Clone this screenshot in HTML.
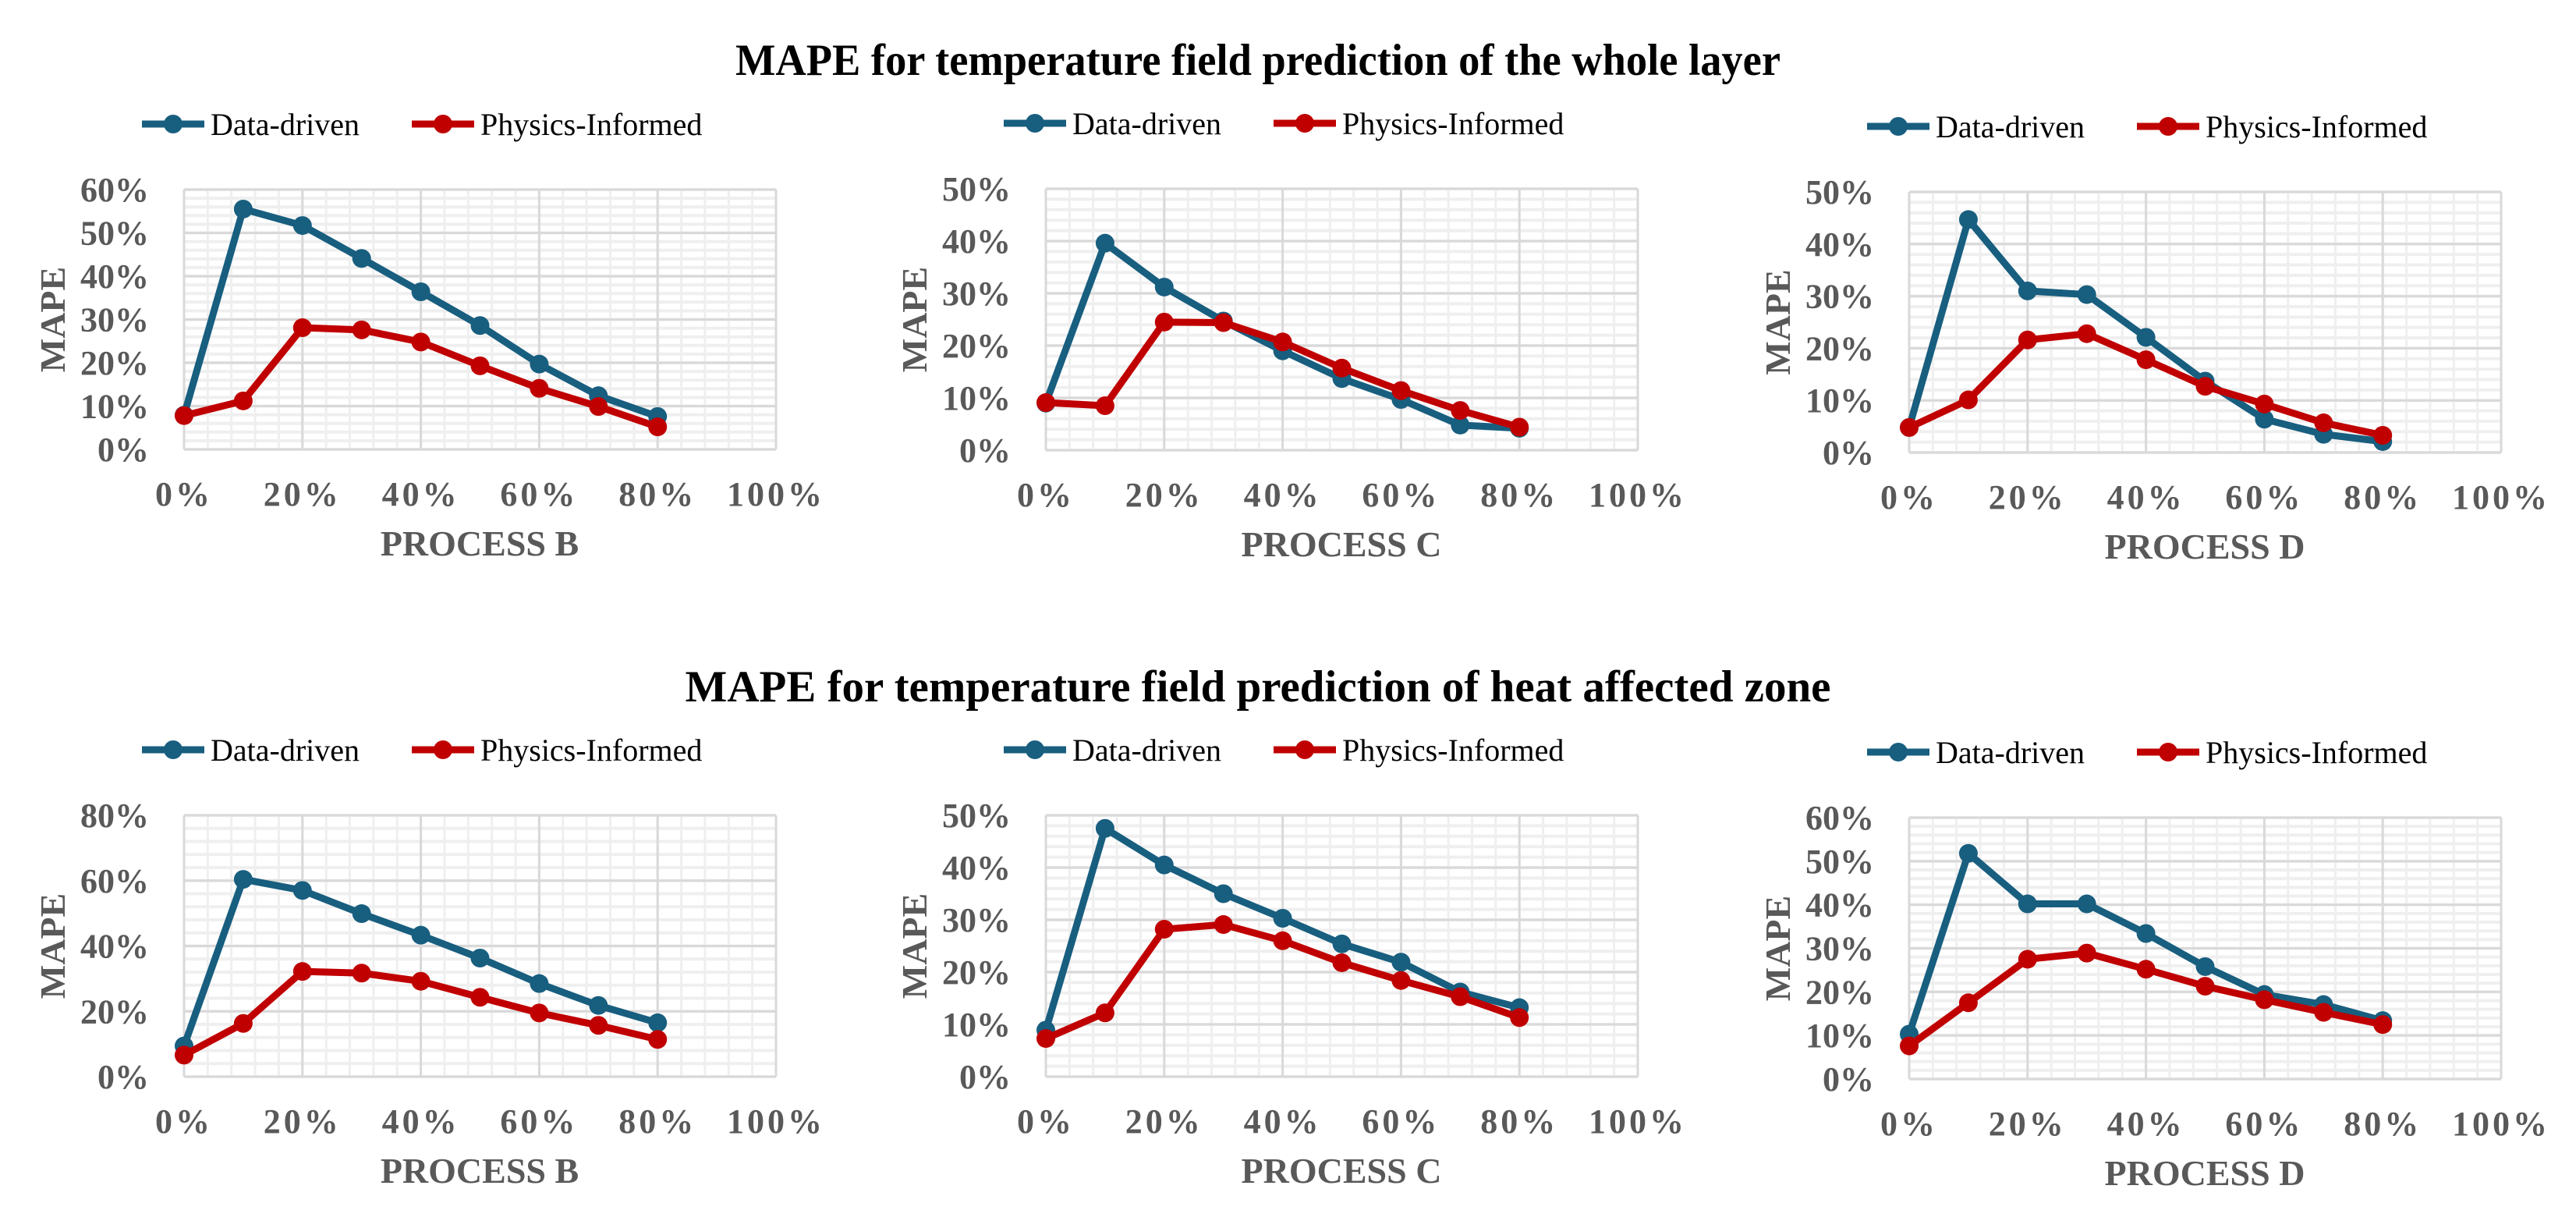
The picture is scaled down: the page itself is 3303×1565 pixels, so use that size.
<!DOCTYPE html>
<html><head><meta charset="utf-8"><style>
html,body{margin:0;padding:0;background:#fff;}
svg{display:block;}
</style></head><body>
<svg id="fig" width="3303" height="1565" viewBox="0 0 3303 1565" xmlns="http://www.w3.org/2000/svg">
<text x="1613" y="96" text-anchor="middle" font-family="Liberation Serif, serif" font-weight="bold" font-size="57" textLength="1340" lengthAdjust="spacingAndGlyphs" fill="#000">MAPE for temperature field prediction of the whole layer</text>
<text x="1613" y="899" text-anchor="middle" font-family="Liberation Serif, serif" font-weight="bold" font-size="57" fill="#000">MAPE for temperature field prediction of heat affected zone</text>
</svg>
<script>
// shared x categories (process progress %)
const xCats = [0, 10, 20, 30, 40, 50, 60, 70, 80];
const xTicks = [0, 20, 40, 60, 80, 100];
const seriesNames = ['Data-driven', 'Physics-Informed'];

// Row 1: whole layer
const ddB1 = [7.9, 55.5, 51.7, 44.1, 36.4, 28.6, 19.7, 12.4, 7.6];
const piB1 = [7.8, 11.2, 28.1, 27.6, 24.8, 19.3, 14.1, 9.9, 5.2];
const ddC1 = [9.0, 39.6, 31.2, 24.7, 19.0, 13.7, 9.7, 4.8, 4.2];
const piC1 = [9.1, 8.5, 24.5, 24.4, 20.7, 15.7, 11.4, 7.6, 4.4];
const ddD1 = [4.8, 44.7, 31.0, 30.3, 22.1, 13.7, 6.4, 3.5, 2.1];
const piD1 = [4.8, 10.1, 21.6, 22.8, 17.8, 12.7, 9.3, 5.7, 3.3];
// Row 2: heat affected zone
const ddB2 = [9.4, 60.4, 57.0, 49.9, 43.3, 36.3, 28.5, 21.8, 16.5];
const piB2 = [6.6, 16.3, 32.2, 31.7, 29.2, 24.3, 19.5, 15.7, 11.4];
const ddC2 = [8.9, 47.5, 40.5, 35.0, 30.3, 25.4, 21.9, 16.2, 13.2];
const piC2 = [7.3, 12.2, 28.2, 29.1, 26.0, 21.8, 18.4, 15.3, 11.3];
const ddD2 = [10.3, 51.8, 40.2, 40.2, 33.4, 25.8, 19.4, 17.1, 13.4];
const piD2 = [7.6, 17.5, 27.5, 28.9, 25.2, 21.3, 18.2, 15.3, 12.5];

// y tick labels
const yTicks60 = [0, 10, 20, 30, 40, 50, 60];
const yTicks50 = [0, 10, 20, 30, 40, 50];
const yTicks80 = [0, 20, 40, 60, 80];

const processLabels = ['PROCESS B', 'PROCESS C', 'PROCESS D'];

const NS = 'http://www.w3.org/2000/svg';
const svg = document.getElementById('fig');
const BLUE = '#185E7F', RED = '#C00000', GRAY = '#595959';

function mk(tag, attrs, parent) {
  const e = document.createElementNS(NS, tag);
  for (const k in attrs) e.setAttribute(k, attrs[k]);
  (parent || svg).appendChild(e);
  return e;
}

function drawChart(id, box, yTicks, dd, pi, procLabel) {
  const g = mk('g', {});
  
  
  const x0 = box.x, W = 759, yT = box.top, yB = box.bottom;
  const yMax = yTicks[yTicks.length - 1];
  const step = yTicks[1] - yTicks[0];
  const sx = v => x0 + v / 100 * W;
  const sy = v => yB - v / yMax * (yB - yT);

  const minorG = mk('g', {}, g);
  
  
  for (let v = 0; v <= 100.001; v += 4) {
    mk('line', {x1: sx(v), x2: sx(v), y1: yT, y2: yB, stroke: '#EFEFEF', 'stroke-width': 3}, minorG);
  }
  for (let v = 0; v <= yMax + 0.001; v += step / 5) {
    mk('line', {x1: x0, x2: x0 + W, y1: sy(v), y2: sy(v), stroke: '#EFEFEF', 'stroke-width': 4}, minorG);
  }
  const majorG = mk('g', {}, g);
  
  
  xTicks.forEach(v => {
    mk('line', {x1: sx(v), x2: sx(v), y1: yT, y2: yB, stroke: '#D9D9D9', 'stroke-width': 3}, majorG);
  });
  yTicks.forEach(v => {
    mk('line', {x1: x0, x2: x0 + W, y1: sy(v), y2: sy(v), stroke: '#D9D9D9', 'stroke-width': 3}, majorG);
  });

  yTicks.forEach(v => {
    const t = mk('text', {x: x0 - 45, y: sy(v) + 15, 'text-anchor': 'end', 'font-family': 'Liberation Serif, serif', 'font-weight': 'bold', 'font-size': 44, fill: GRAY}, g);
    
    
    t.textContent = v + '%';
  });
  xTicks.forEach(v => {
    const t = mk('text', {x: sx(v), y: yB + 72, 'text-anchor': 'middle', 'font-family': 'Liberation Serif, serif', 'font-weight': 'bold', 'font-size': 44, 'letter-spacing': 4, fill: GRAY}, g);
    
    
    t.textContent = v + '%';
  });
  const xt = mk('text', {x: x0 + 379, y: yB + 136, 'text-anchor': 'middle', 'font-family': 'Liberation Serif, serif', 'font-weight': 'bold', 'font-size': 46, fill: GRAY}, g);
  
  
  xt.textContent = procLabel;
  const cy = (yT + yB) / 2;
  const yt = mk('text', {x: x0 - 153, y: cy, 'text-anchor': 'middle', transform: 'rotate(-90 ' + (x0 - 153) + ' ' + cy + ')', 'font-family': 'Liberation Serif, serif', 'font-weight': 'bold', 'font-size': 46, fill: GRAY}, g);
  
  
  yt.textContent = 'MAPE';

  [[dd, BLUE, 'data-driven'], [pi, RED, 'physics-informed']].forEach(([vals, col, nm]) => {
    const sg = mk('g', {}, g);
    
    
    const pts = vals.map((v, i) => sx(xCats[i]) + ',' + sy(v)).join(' ');
    const pl = mk('polyline', {points: pts, fill: 'none', stroke: col, 'stroke-width': 9, 'stroke-linejoin': 'round'}, sg);
    
    
    vals.forEach((v, i) => {
      const c = mk('circle', {cx: sx(xCats[i]), cy: sy(v), r: 12, fill: col}, sg);
      
      
    });
  });

  const ly = yT - 84;
  const lg = mk('g', {}, g);
  
  
  [[BLUE, -54, seriesNames[0]], [RED, 292, seriesNames[1]]].forEach(([col, off, name]) => {
    const eg = mk('g', {}, lg);
    
    
    mk('line', {x1: x0 + off, x2: x0 + off + 80, y1: ly, y2: ly, stroke: col, 'stroke-width': 9}, eg);
    mk('circle', {cx: x0 + off + 40, cy: ly, r: 12, fill: col}, eg);
    const t = mk('text', {x: x0 + off + 88, y: ly + 14, 'font-family': 'Liberation Serif, serif', 'font-size': 40, fill: '#000'}, eg);
    t.textContent = name;
  });
}

drawChart('b-whole', {x: 236, top: 243, bottom: 576}, yTicks60, ddB1, piB1, processLabels[0]);
drawChart('c-whole', {x: 1341, top: 242, bottom: 577}, yTicks50, ddC1, piC1, processLabels[1]);
drawChart('d-whole', {x: 2448, top: 246, bottom: 580}, yTicks50, ddD1, piD1, processLabels[2]);
drawChart('b-haz', {x: 236, top: 1045, bottom: 1380}, yTicks80, ddB2, piB2, processLabels[0]);
drawChart('c-haz', {x: 1341, top: 1045, bottom: 1380}, yTicks50, ddC2, piC2, processLabels[1]);
drawChart('d-haz', {x: 2448, top: 1048, bottom: 1383}, yTicks60, ddD2, piD2, processLabels[2]);
</script>
</body></html>
